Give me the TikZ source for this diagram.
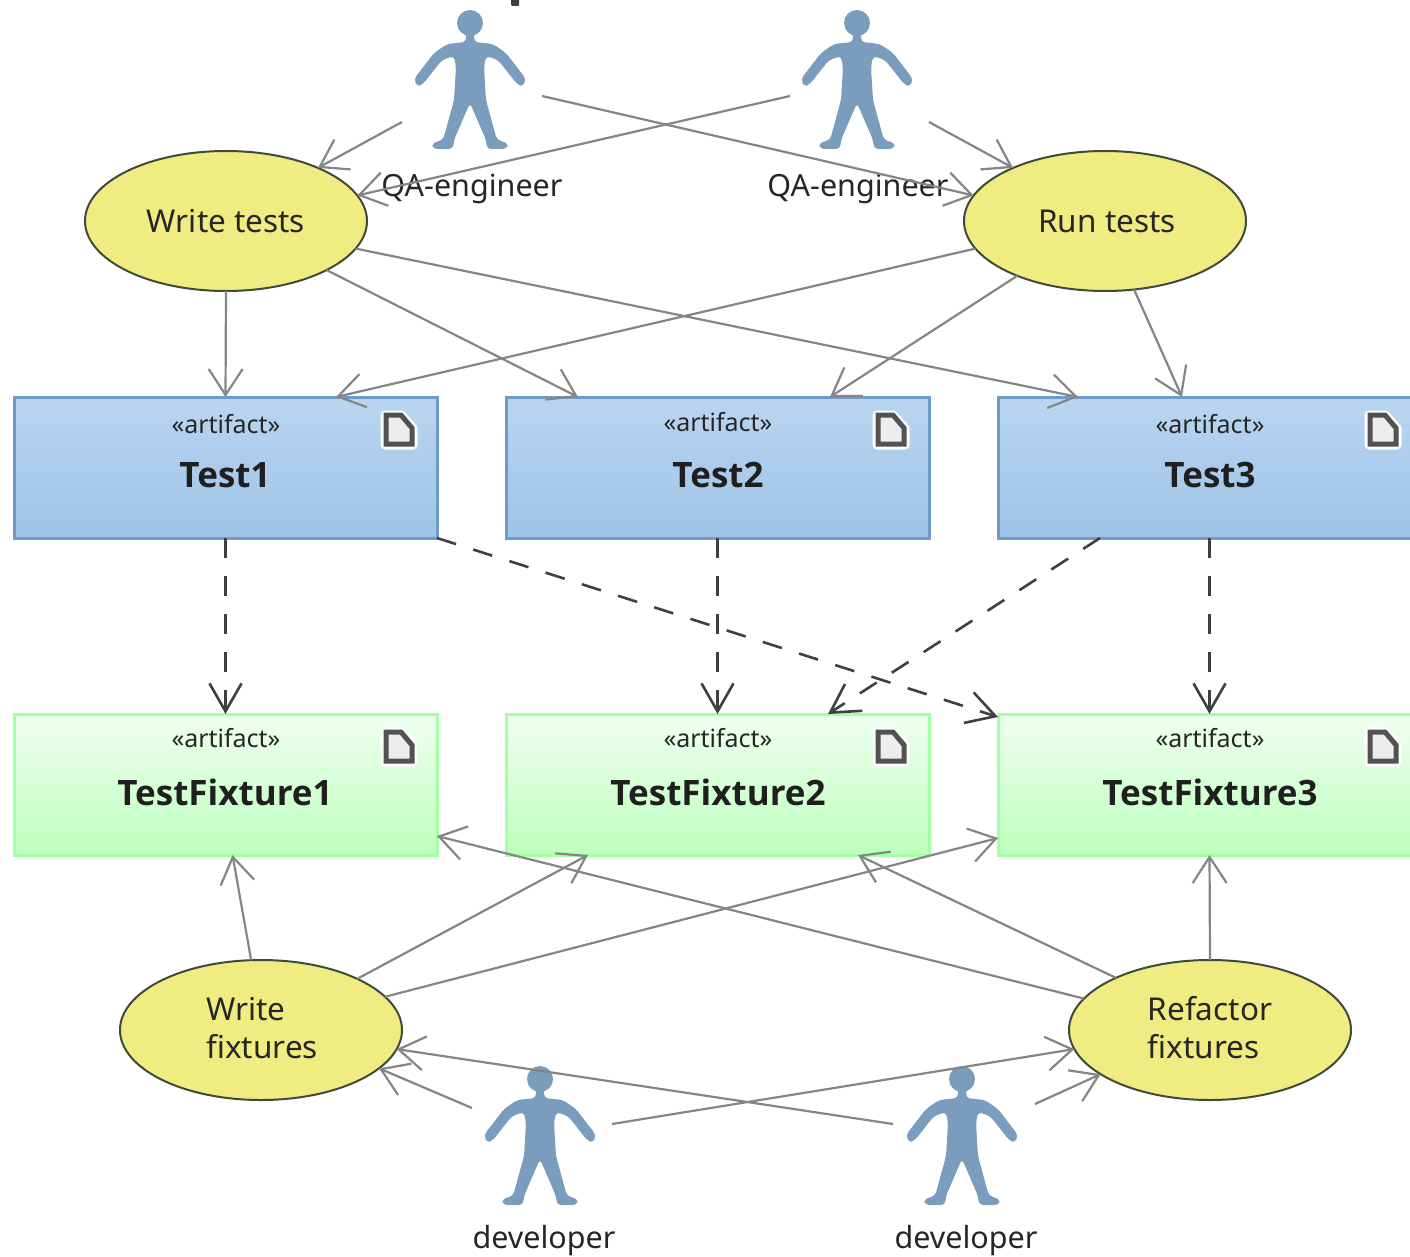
\documentclass[tikz,border=0pt]{standalone}
\usepackage{fontspec}
\setmainfont{Noto Sans}
\newfontfamily\namefam{Open Sans}
\usetikzlibrary{arrows.meta,calc,shapes.geometric}
\definecolor{persblue}{HTML}{7A9DBD}
\definecolor{usefill}{HTML}{F0EC82}
\definecolor{useline}{HTML}{3F4A3A}
\definecolor{conn}{HTML}{858585}
\definecolor{depc}{HTML}{404040}
\definecolor{blueline}{HTML}{6F9BCB}
\definecolor{bluetop}{HTML}{BAD5F0}
\definecolor{bluebot}{HTML}{9EC3E7}
\definecolor{greenline}{HTML}{A5FFA5}
\definecolor{greentop}{HTML}{F0FFF0}
\definecolor{greenbot}{HTML}{BCFFBC}
\tikzset{
  usecase/.style={ellipse,draw=useline,fill=usefill,line width=2pt,minimum width=282pt,minimum height=140pt,inner sep=0pt,outer sep=0pt},
  uselabel/.style={inner sep=0pt,font=\fontsize{31.5}{38}\selectfont,text=black!85,align=left},
  bluebox/.style={draw=blueline,line width=3pt,top color=bluetop,bottom color=bluebot,minimum width=423pt,minimum height=141pt,inner sep=0pt,outer sep=0pt},
  greenbox/.style={draw=greenline,line width=3pt,top color=greentop,bottom color=greenbot,minimum width=423pt,minimum height=141pt,inner sep=0pt,outer sep=0pt},
  stereo/.style={font=\fontsize{25}{25}\selectfont,text=black!85,inner sep=0pt},
  artname/.style={font=\namefam\bfseries\fontsize{35}{35}\selectfont,text=black!88,inner sep=0pt},
  lbl/.style={font=\fontsize{30.5}{30.5}\selectfont,text=black!85,inner sep=0pt},
  assoc/.style={draw=conn,line width=2.2pt,-{Straight Barb[length=26pt,width=34pt,line width=2.2pt]}},
  depend/.style={draw=depc,line width=2.6pt,dash pattern=on 20pt off 18pt,-{Straight Barb[length=28pt,width=32pt,line width=2.6pt]}},
  actorfig/.pic={
    \fill[persblue] (0,23) circle (13);
    \fill[persblue,rounded corners=4pt]
      (-4,30)--(4,30)--(4,42)--(23,44)--(36,53)--(56,79)--(53,87)--(47,84)--(28,60)--(16,56)--(14,67)--(16,100)
      --(25,133)--(27,140)--(38,143)--(37,149)--(17,149)--(16,140)--(0,103)
      --(-16,140)--(-17,149)--(-37,149)--(-38,143)--(-27,140)--(-25,133)--(-16,100)--(-14,67)--(-16,56)--(-28,60)--(-47,84)--(-53,87)--(-56,79)--(-36,53)--(-23,44)--(-4,42)--cycle;
  },
  docicon/.pic={
    \path[fill=white,draw=white,line width=9pt,line join=round] (-52,18)--(-36,18)--(-24,31)--(-24,48)--(-52,48)--cycle;
    \path[fill=black!7,draw=black!68,line width=5pt,line join=miter] (-51,18)--(-36,18)--(-25,31)--(-25,47)--(-51,47)--cycle;
  }
}
\begin{document}
\begin{tikzpicture}[x=1pt,y=-1pt]
\path[use as bounding box,clip] (0,0) rectangle (1410,1257);
% cut-off mark at the top edge
\fill[depc,rounded corners=1pt] (511,-4) rectangle (519,6);
% actors
\pic at (470,0) {actorfig};
\pic at (857,0) {actorfig};
\pic at (540,1056) {actorfig};
\pic at (962,1056) {actorfig};
\node[lbl] (qalabA) at (472,189) {QA-engineer};
\node[lbl] (qalabB) at (858,189) {QA-engineer};
\node[lbl] (devlabA) at (544,1241) {developer};
\node[lbl] (devlabB) at (966,1241) {developer};
% free connector ends beside actors
\coordinate (qaAl) at (402,122);
\coordinate (qaAr) at (542,96);
\coordinate (qaBl) at (790,96);
\coordinate (qaBr) at (929,122);
\coordinate (devAl) at (472,1108);
\coordinate (devAr) at (612,1124);
\coordinate (devBl) at (893,1124);
\coordinate (devBr) at (1035,1104);
% use cases
\node[usecase] (wt) at (226,221) {};
\node[usecase] (rt) at (1105,221) {};
\node[usecase] (wf) at (261,1030) {};
\node[usecase] (rf) at (1210,1030) {};
\node[uselabel] (wtl) at (226,221) {Write tests};
\node[uselabel] (rtl) at (1107,221) {Run tests};
\node[uselabel] (wfl) at (262,1028) {Write\\fixtures};
\node[uselabel] (rfl) at (1210,1028) {Refactor\\fixtures};
% artifacts
\node[bluebox] (t1) at (225.5,467.5) {};
\node[bluebox] (t2) at (717.5,467.5) {};
\node[bluebox] (t3) at (1209.5,467.5) {};
\node[greenbox] (f1) at (225.5,784.5) {};
\node[greenbox] (f2) at (717.5,784.5) {};
\node[greenbox] (f3) at (1209.5,784.5) {};
\foreach \b in {t1,t2,t3,f1,f2,f3} {\pic at (\b.north east) {docicon};}
\node[stereo] (s1) at (226,424) {«artifact»};
\node[stereo] (s2) at (718,422) {«artifact»};
\node[stereo] (s3) at (1210,424) {«artifact»};
\node[stereo] (s4) at (226,738) {«artifact»};
\node[stereo] (s5) at (718,738) {«artifact»};
\node[stereo] (s6) at (1210,738) {«artifact»};
\node[artname] (n1) at (225,475) {Test1};
\node[artname] (n2) at (718,475) {Test2};
\node[artname] (n3) at (1210,475) {Test3};
\node[artname] (n4) at (225,792) {TestFixture1};
\node[artname] (n5) at (718,792) {TestFixture2};
\node[artname] (n6) at (1210,792) {TestFixture3};
% associations
\draw[assoc] (qaAl) -- (wt.30);
\draw[assoc] (qaBl) -- (wt.11.4);
\draw[assoc] (qaAr) -- (rt.169.5);
\draw[assoc] (qaBr) -- (rt.150);
\draw[assoc] (wt.south) -- (t1.north);
\draw[assoc] (wt.-26) -- ([xshift=72pt]t2.north west);
\draw[assoc] (wt.-12.4) -- ([xshift=80pt]t3.north west);
\draw[assoc] (rt.192.5) -- ([xshift=322pt]t1.north west);
\draw[assoc] (rt.212.3) -- ([xshift=324pt]t2.north west);
\draw[assoc] (rt.-67.5) -- ([xshift=184pt]t3.north west);
\draw[assoc] (wf.98) -- ([xshift=7pt]f1.south);
\draw[assoc] (wf.28.2) -- ([xshift=82pt]f2.south west);
\draw[assoc] (wf.15) -- ([yshift=17pt]f3.south west);
\draw[assoc] (rf.166) -- ([yshift=19pt]f1.south east);
\draw[assoc] (rf.151.8) -- ([xshift=352pt]f2.south west);
\draw[assoc] (rf.north) -- (f3.south);
\draw[assoc] (devAl) -- (wf.-18.9);
\draw[assoc] (devBl) -- (wf.-8.4);
\draw[assoc] (devAr) -- (rf.188.6);
\draw[assoc] (devBr) -- (rf.202.5);
% dependencies
\draw[depend] (t1.south) -- (f1.north);
\draw[depend] (t1.south east) -- ([yshift=-3pt]f3.north west);
\draw[depend] (t2.south) -- (f2.north);
\draw[depend] ([xshift=102pt]t3.south west) -- ([xshift=322pt]f2.north west);
\draw[depend] (t3.south) -- (f3.north);
\end{tikzpicture}
\end{document}
